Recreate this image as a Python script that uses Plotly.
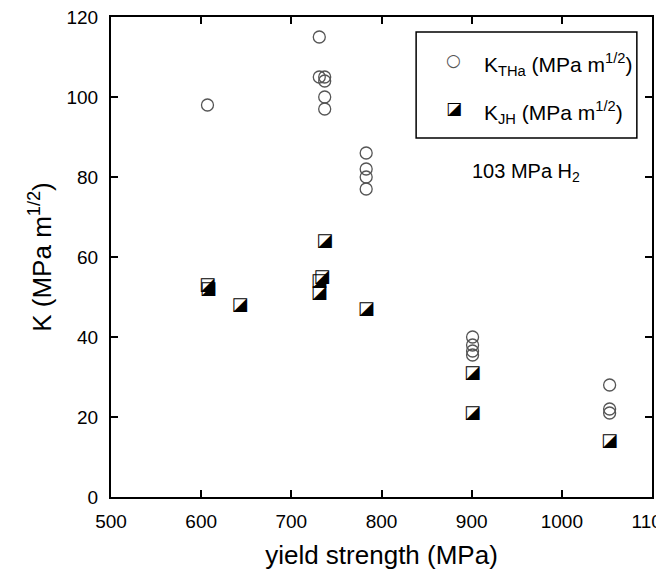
import plotly.graph_objects as go

# K_THa data (open circles)
ys_tha = [607, 731, 731, 737, 737, 737, 737, 783, 783, 783, 783, 901, 901, 901, 901, 1053, 1053, 1053]
k_tha = [98, 115, 105, 105, 104, 100, 97, 86, 82, 80, 77, 40, 38, 36.5, 35.5, 28, 22, 21]

# K_JH data (half-filled squares)
ys_jh = [607, 608, 643, 737, 734, 731, 731, 783, 901, 901, 1053]
k_jh = [53, 52, 48, 64, 55, 54, 51, 47, 31, 21, 14]

x_ticks = [500, 600, 700, 800, 900, 1000, 1100]
y_ticks = [0, 20, 40, 60, 80, 100, 120]

FONT = "Liberation Sans, Arial, sans-serif"

fig = go.Figure()
fig.add_trace(go.Scatter(
    x=ys_tha, y=k_tha, mode="markers",
    marker=dict(symbol="circle-open", size=12, color="#555555", line=dict(width=1.3)),
    showlegend=False, cliponaxis=False))
fig.add_trace(go.Scatter(
    x=ys_jh, y=k_jh, mode="text", text=["◪"] * len(ys_jh),
    textposition="middle center",
    textfont=dict(family="DejaVu Sans", size=18, color="black"),
    showlegend=False, cliponaxis=False))

axis_common = dict(
    showline=True, linecolor="black", linewidth=2, mirror="ticks",
    ticks="inside", ticklen=7, tickwidth=2, tickcolor="black",
    showgrid=False, zeroline=False, automargin=False,
    ticklabeloverflow="allow",
    tickfont=dict(family=FONT, size=19, color="black"),
)

fig.update_xaxes(range=[500, 1100], tickvals=x_ticks, ticklabelstandoff=6,
                 title=dict(text="yield strength (MPa)", font=dict(family=FONT, size=26, color="black"), standoff=15),
                 **axis_common)
fig.update_yaxes(range=[0, 120], tickvals=y_ticks, ticklabelstandoff=7,
                 title=dict(text="K (MPa m<sup>1/2</sup>)", font=dict(family=FONT, size=26, color="black"), standoff=7),
                 **axis_common)

# legend box (manual)
fig.add_shape(type="rect", xref="paper", yref="paper", x0=0.564, x1=0.972, y0=0.748, y1=0.969,
              line=dict(color="black", width=1.5), fillcolor="white", layer="below")
fig.add_annotation(xref="paper", yref="paper", x=0.634, y=0.910, xanchor="center", yanchor="middle",
                   text="○", showarrow=False,
                   font=dict(family="DejaVu Sans", size=17, color="#555555"))
fig.add_annotation(xref="paper", yref="paper", x=0.634, y=0.810, xanchor="center", yanchor="middle",
                   text="◪", showarrow=False,
                   font=dict(family="DejaVu Sans", size=17, color="black"))
fig.add_annotation(xref="paper", yref="paper", x=0.686, y=0.900, xanchor="left", yanchor="middle",
                   text="K<sub>THa</sub> (MPa m<sup>1/2</sup>)", showarrow=False,
                   font=dict(family=FONT, size=21, color="black"))
fig.add_annotation(xref="paper", yref="paper", x=0.686, y=0.800, xanchor="left", yanchor="middle",
                   text="K<sub>JH</sub> (MPa m<sup>1/2</sup>)", showarrow=False,
                   font=dict(family=FONT, size=21, color="black"))
fig.add_annotation(xref="paper", yref="paper", x=0.663, y=0.677, xanchor="left", yanchor="middle",
                   text="103 MPa H<sub>2</sub>", showarrow=False,
                   font=dict(family=FONT, size=20, color="black"))

# page body has an 8px margin; compensate so the plot area lands at x 111-652, y 17-497
fig.update_layout(
    width=664, height=572,
    margin=dict(l=103, r=20, t=9, b=83),
    paper_bgcolor="white", plot_bgcolor="white",
    font=dict(family=FONT, color="black"),
)

fig.write_html("out.html")
